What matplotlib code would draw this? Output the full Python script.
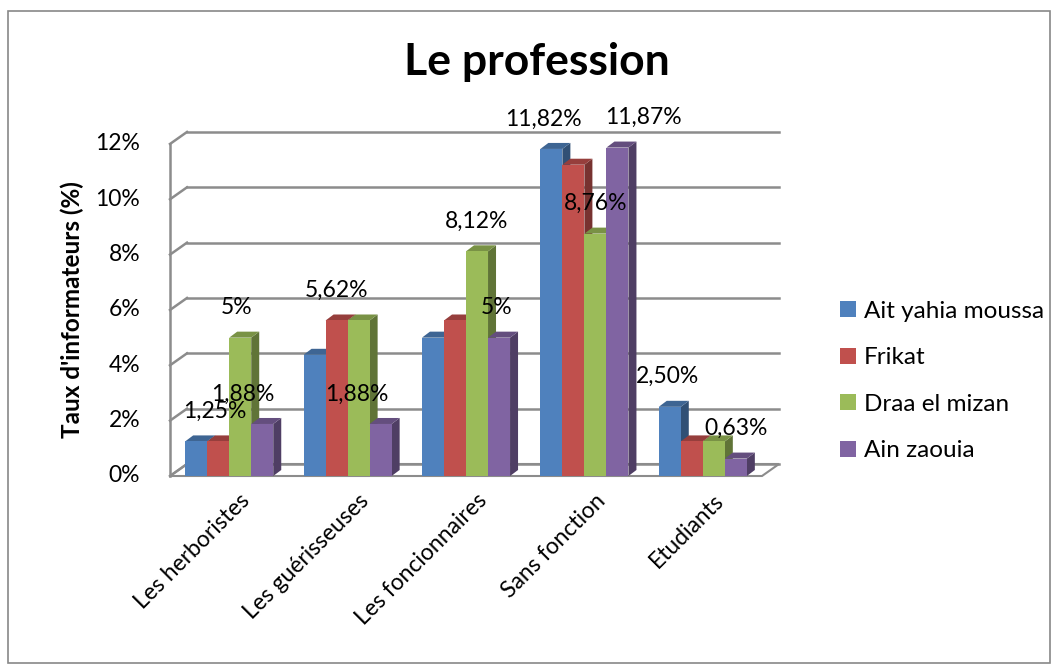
import numpy as np
import matplotlib
matplotlib.use("Agg")
import matplotlib.pyplot as plt
from matplotlib.patches import Polygon, Rectangle
from matplotlib.colors import to_rgb

plt.rcParams['font.family'] = ['Lato', 'DejaVu Sans']

# data
categories = ['Les herboristes', 'Les guérisseuses', 'Les foncionnaires', 'Sans fonction', 'Etudiants']
series = ['Ait yahia moussa', 'Frikat', 'Draa el mizan', 'Ain zaouia']
ait_yahia = [1.25, 4.38, 5.00, 11.82, 2.50]
frikat = [1.25, 5.62, 5.62, 11.25, 1.25]
draa = [5.00, 5.62, 8.12, 8.76, 1.25]
ain_zaouia = [1.88, 1.88, 5.00, 11.87, 0.63]
values = [ait_yahia, frikat, draa, ain_zaouia]

# labels that Excel actually shows (None = hidden)
shown = [
    [None, None, None, '11,82%', '2,50%'],
    ['1,25%', '5,62%', None, None, None],
    ['5%', None, '8,12%', '8,76%', None],
    ['1,88%', '1,88%', '5%', '11,87%', '0,63%'],
]
# horizontal nudge of the labels in pixels
nudge = [
    [0, 0, 0, -8, -2],
    [-3, 0, 0, 0, 0],
    [-4, 0, 0, 0, 0],
    [-19, -24, -2, 26, 0],
]

colors = ['#4F81BD', '#C0504D', '#9BBB59', '#8064A2']
yticks = [0, 2, 4, 6, 8, 10, 12]

W, H = 1054, 664
fig = plt.figure(figsize=(W / 100, H / 100), dpi=100)
fig.patch.set_facecolor('white')

# axes box in pixels (front plane)
x0, x1 = 170, 762
y0, ytop = 476, 126
ymax = (y0 - ytop) / 27.67
ax = fig.add_axes([x0 / W, 1 - y0 / H, (x1 - x0) / W, (y0 - ytop) / H])
ax.set_xlim(-0.5, len(categories) - 0.5)
ax.set_ylim(0, ymax)
ax.axis('off')

px_x = (len(categories)) / (x1 - x0)   # data units per pixel (x)
px_y = ymax / (y0 - ytop)              # data units per pixel (y)

# wall / floor depth and bar depth
wdx, wdy = 17 * px_x, 12 * px_y
bdx, bdy = 8 * px_x, 6 * px_y
grid_c = '#8c8c8c'
xmin, xmax = -0.5, len(categories) - 0.5

# floor
ax.add_patch(Polygon([(xmin, 0), (xmax, 0), (xmax + wdx, wdy), (xmin + wdx, wdy)],
                     closed=True, facecolor='white', edgecolor=grid_c, lw=1.5,
                     zorder=1, clip_on=False))
# back wall gridlines and left wall
for v in yticks:
    ax.plot([xmin + wdx, xmax + wdx], [v + wdy, v + wdy], color=grid_c, lw=1.8,
            zorder=1, clip_on=False)
    ax.plot([xmin, xmin + wdx], [v, v + wdy], color=grid_c, lw=1.8,
            zorder=1, clip_on=False)
ax.plot([xmin, xmin], [0, yticks[-1]], color=grid_c, lw=1.8, zorder=1, clip_on=False)


def shade(c, f):
    r, g, b = to_rgb(c)
    return (r * f, g * f, b * f)


bw = 0.186
xs = np.arange(len(categories))
z = 2
for ci in range(len(categories)):
    for si in range(len(series)):
        v = values[si][ci]
        left = xs[ci] + (si - 2) * bw
        right = left + bw
        c = colors[si]
        # side
        ax.add_patch(Polygon([(right, 0), (right + bdx, bdy), (right + bdx, v + bdy), (right, v)],
                             closed=True, facecolor=shade(c, 0.62), edgecolor='none',
                             zorder=z, clip_on=False))
        # top
        ax.add_patch(Polygon([(left, v), (right, v), (right + bdx, v + bdy), (left + bdx, v + bdy)],
                             closed=True, facecolor=shade(c, 0.78), edgecolor='none',
                             zorder=z, clip_on=False))
        # front
        ax.bar(left, v, width=bw, align='edge', color=c, edgecolor='none', zorder=z + 0.5)
        z += 1

# data labels
for si in range(len(series)):
    for ci in range(len(categories)):
        t = shown[si][ci]
        if t is None:
            continue
        cx = xs[ci] + (si - 1.5) * bw + nudge[si][ci] * px_x
        ax.text(cx, values[si][ci] + 30 * px_y, t, ha='center', va='center',
                fontsize=16.5, color='black', zorder=100, clip_on=False)

# y tick labels (front plane)
for v in yticks:
    ax.text(xmin - 30 * px_x, v, f'{v}%', ha='right', va='center', fontsize=16.5,
            clip_on=False)

# category labels
for ci, name in enumerate(categories):
    ax.text(xs[ci] + 10 * px_x, -14 * px_y, name, rotation=45, ha='right', va='top',
            rotation_mode='anchor', fontsize=16.5, clip_on=False)

fig.text(72 / W, 1 - 310 / H, "Taux d'informateurs (%)", rotation=90, ha='center',
         va='center', fontsize=17.5, fontweight='bold')
fig.text(537 / W, 1 - 62 / H, 'Le profession', ha='center', va='center',
         fontsize=32, fontweight='bold')

handles = [Rectangle((0, 0), 1, 1, facecolor=c) for c in colors]
fig.legend(handles, series, loc='center left', bbox_to_anchor=(818 / W, 1 - 381 / H),
           frameon=False, fontsize=17.5, handlelength=0.65, handleheight=0.65,
           handletextpad=0.35, labelspacing=1.05)

# chart border
fig.add_artist(Rectangle((8 / W, 0.002), 1042 / W, 1 - 12 / H, transform=fig.transFigure,
                         fill=False, edgecolor='#888888', lw=1.2))

fig.savefig('out.png', dpi=100)
